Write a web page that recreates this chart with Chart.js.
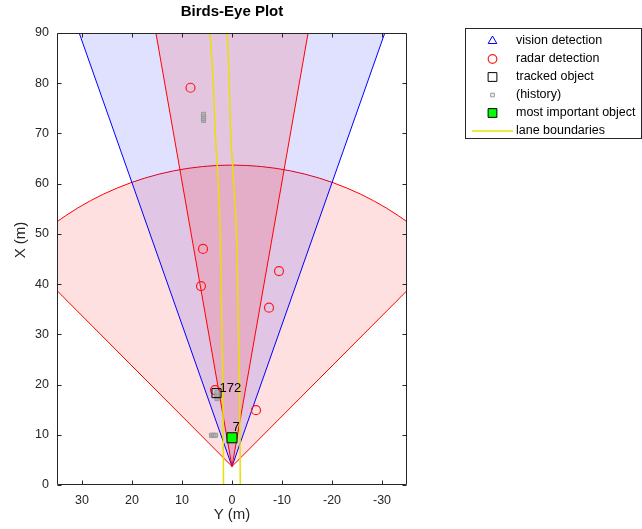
<!DOCTYPE html>
<html>
<head>
<meta charset="utf-8">
<script src="https://cdn.jsdelivr.net/npm/chart.js@4.4.1/dist/chart.umd.min.js"></script>
<style>
  html, body { margin: 0; padding: 0; background: #fff; overflow: hidden; }
  #wrap { width: 642px; height: 529px; position: relative; }
</style>
</head>
<body>
<div id="wrap"><canvas id="bep"></canvas></div>
<script>
// Axis ticks
const lateralTicks = [30, 20, 10, 0, -10, -20, -30];          // Y (m), drawn reversed
const longTicks = [0, 10, 20, 30, 40, 50, 60, 70, 80, 90];     // X (m)

// Sensor coverage (mounted at the front bumper)
const sensorX = 3.7;
const coverageNames = ['mid range radar', 'vision', 'long range radar'];
const coverageRange = [60, 150, 174];
const coverageFov = [90, 39, 20];

// Detections (lateral Y, longitudinal X)
const radarY = [8.3, 5.8, 6.2, -9.4, -7.4, -4.8, 3.4];
const radarX = [79.1, 47.0, 39.6, 42.6, 35.3, 14.9, 18.9];
const visionY = [];
const visionX = [];

// Tracks
const trackY = [3.1];
const trackX = [18.3];
const trackIds = ['172'];
const historyY = [5.7, 5.7, 5.7, 5.7, 4.1, 3.7, 3.3, 3.0, 3.0, 3.0, 3.0];
const historyX = [72.6, 73.0, 73.4, 73.8, 9.9, 9.9, 9.9, 17.2, 17.6, 18.0, 18.4];
const mioY = [0.0];
const mioX = [9.4];
const mioIds = ['7'];

// Lane boundaries
const laneX = [0, 10, 20, 30, 40, 50, 60, 70, 80, 90];
const laneLeftY = [1.7, 1.75, 1.85, 2.0, 2.2, 2.35, 2.75, 3.35, 3.75, 4.4];
const laneRightY = [-1.65, -1.6, -1.5, -1.3, -1.1, -0.9, -0.35, 0.25, 0.55, 0.95];

const legendLabels = ['vision detection', 'radar detection', 'tracked object', '(history)', 'most important object', 'lane boundaries'];

const AXIS = '#262626';
const FONT = "'Liberation Sans', Arial, Helvetica, sans-serif";
const coverageFill = ['rgba(255,0,0,0.12)', 'rgba(0,0,255,0.12)', 'rgba(255,0,0,0.12)'];
const coverageEdge = ['#ff0000', '#0000ff', '#ff0000'];
const LANE = '#e8e000';

const pts = (ys, xs) => ys.map((y, i) => ({ x: y, y: xs[i] }));

Chart.defaults.font.family = FONT;

const bepPlugin = {
  id: 'bep',
  beforeDatasetsDraw(chart) {
    const { ctx, chartArea: a, scales: { x: sx, y: sy } } = chart;
    const cx = sx.getPixelForValue(0);
    const cy = sy.getPixelForValue(sensorX);
    const kx = Math.abs(sx.getPixelForValue(1) - sx.getPixelForValue(0));
    const ky = Math.abs(sy.getPixelForValue(1) - sy.getPixelForValue(0));
    ctx.save();
    ctx.beginPath();
    ctx.rect(a.left, a.top, a.right - a.left, a.bottom - a.top);
    ctx.clip();
    coverageRange.forEach((r, i) => {
      const half = coverageFov[i] / 2 * Math.PI / 180;
      ctx.beginPath();
      ctx.moveTo(cx, cy);
      ctx.ellipse(cx, cy, r * kx, r * ky, 0, -Math.PI / 2 - half, -Math.PI / 2 + half);
      ctx.closePath();
      ctx.fillStyle = coverageFill[i];
      ctx.fill();
      ctx.lineWidth = 1;
      ctx.strokeStyle = coverageEdge[i];
      ctx.stroke();
    });
    ctx.restore();
  },
  afterDatasetsDraw(chart) {
    const { ctx, chartArea: a, scales: { x: sx, y: sy } } = chart;
    ctx.save();

    // object labels
    ctx.fillStyle = '#000';
    ctx.font = '13px ' + FONT;
    ctx.textBaseline = 'middle';
    ctx.textAlign = 'left';
    trackIds.forEach((id, i) => {
      ctx.fillText(id, sx.getPixelForValue(trackY[i]) + 3, sy.getPixelForValue(trackX[i]) - 5);
    });
    mioIds.forEach((id, i) => {
      ctx.fillText(id, sx.getPixelForValue(mioY[i]) + 0.5, sy.getPixelForValue(mioX[i]) - 10);
    });

    // axes box with inward ticks
    const L = Math.round(a.left) + 0.5, R = Math.round(a.right) - 0.5;
    const T = Math.round(a.top) + 0.5, B = Math.round(a.bottom) - 0.5;
    ctx.strokeStyle = AXIS;
    ctx.lineWidth = 1;
    ctx.beginPath();
    ctx.rect(L, T, R - L, B - T);
    const tl = 4;
    lateralTicks.forEach(v => {
      const px = Math.round(sx.getPixelForValue(v)) + 0.5;
      ctx.moveTo(px, B); ctx.lineTo(px, B - tl);
      ctx.moveTo(px, T); ctx.lineTo(px, T + tl);
    });
    longTicks.forEach(v => {
      const py = Math.round(sy.getPixelForValue(v)) + 0.5;
      ctx.moveTo(L, py); ctx.lineTo(L + tl, py);
      ctx.moveTo(R, py); ctx.lineTo(R - tl, py);
    });
    ctx.stroke();

    // y axis title
    ctx.save();
    ctx.fillStyle = AXIS;
    ctx.font = '15px ' + FONT;
    ctx.textAlign = 'center';
    ctx.translate(21, 240);
    ctx.rotate(-Math.PI / 2);
    ctx.fillText('X (m)', 0, 0);
    ctx.restore();

    // title
    ctx.fillStyle = '#000';
    ctx.font = 'bold 15px ' + FONT;
    ctx.textAlign = 'center';
    ctx.fillText('Birds-Eye Plot', (a.left + a.right) / 2, 12);

    // legend
    const lx = 465.5, ly = 28.5, lw = 176, lh = 110;
    ctx.fillStyle = '#fff';
    ctx.fillRect(lx, ly, lw, lh);
    ctx.strokeStyle = AXIS;
    ctx.strokeRect(lx, ly, lw, lh);
    const styles = chart.data.datasets.filter(d => d.legendIndex !== undefined)
      .sort((p, q) => p.legendIndex - q.legendIndex);
    ctx.font = '12.5px ' + FONT;
    ctx.textAlign = 'left';
    legendLabels.forEach((label, i) => {
      const y = 41 + i * 18;
      const d = styles[i];
      ctx.save();
      if (d.showLine) {
        ctx.strokeStyle = d.borderColor;
        ctx.lineWidth = 1.5;
        ctx.beginPath();
        ctx.moveTo(472, y); ctx.lineTo(513, y);
        ctx.stroke();
      } else {
        ctx.strokeStyle = d.borderColor;
        ctx.fillStyle = d.legendFill || d.backgroundColor;
        ctx.lineWidth = d.borderWidth;
        Chart.helpers.drawPoint(ctx, {
          pointStyle: d.pointStyle, radius: d.legendRadius || d.pointRadius,
          borderWidth: d.borderWidth, rotation: 0
        }, 492.5, y);
      }
      ctx.restore();
      ctx.fillStyle = '#000';
      ctx.fillText(label, 516, y);
    });
    ctx.restore();
  }
};

new Chart(document.getElementById('bep'), {
  type: 'scatter',
  data: {
    datasets: [
      {
        label: 'vision detection', legendIndex: 0, data: pts(visionY, visionX),
        pointStyle: 'triangle', pointRadius: 5, legendRadius: 5,
        borderColor: '#0000ff', backgroundColor: 'rgba(0,0,0,0)', borderWidth: 1, order: 3
      },
      {
        label: 'radar detection', legendIndex: 1, data: pts(radarY, radarX),
        pointStyle: 'circle', pointRadius: 4.5, legendRadius: 4.3,
        borderColor: '#ff1a1a', backgroundColor: 'rgba(0,0,0,0)', borderWidth: 1.2, order: 3
      },
      {
        label: 'tracked object', legendIndex: 2, data: pts(trackY, trackX),
        pointStyle: 'rect', pointRadius: 6.4, legendRadius: 6.2,
        borderColor: '#000', backgroundColor: 'rgba(0,0,0,0)', borderWidth: 1, order: 1
      },
      {
        label: '(history)', legendIndex: 3, data: pts(historyY, historyX),
        pointStyle: 'rect', pointRadius: 2.9, legendRadius: 2.6,
        borderColor: '#999999', backgroundColor: 'rgba(175,175,175,0.85)', legendFill: '#f0f0f0',
        borderWidth: 1, order: 2
      },
      {
        label: 'most important object', legendIndex: 4, data: pts(mioY, mioX),
        pointStyle: 'rect', pointRadius: 7.1, legendRadius: 6.2,
        borderColor: '#000', backgroundColor: '#00ff00', borderWidth: 1, order: 0
      },
      {
        label: 'lane boundaries', legendIndex: 5, data: pts(laneLeftY, laneX),
        showLine: true, pointRadius: 0, borderColor: LANE, borderWidth: 1.5,
        tension: 0.4, order: 4
      },
      {
        label: 'lane boundaries right', data: pts(laneRightY, laneX),
        showLine: true, pointRadius: 0, borderColor: LANE, borderWidth: 1.5,
        tension: 0.4, order: 4
      }
    ]
  },
  options: {
    responsive: true,
    maintainAspectRatio: false,
    animation: false,
    layout: { padding: { top: 33, right: 235, left: 0, bottom: 0 } },
    plugins: {
      legend: { display: false },
      title: { display: false },
      tooltip: { enabled: false }
    },
    scales: {
      x: {
        type: 'linear', min: -35, max: 35, reverse: true,
        afterBuildTicks: s => { s.ticks = lateralTicks.map(v => ({ value: v })); },
        afterFit: s => { s.height = 44; },
        grid: { display: false, drawTicks: false },
        border: { display: false },
        ticks: { color: AXIS, font: { size: 12.5 }, padding: 8, maxRotation: 0, autoSkip: false },
        title: { display: true, text: 'Y (m)', color: AXIS, font: { size: 15 }, padding: { top: 0, bottom: 5 } }
      },
      y: {
        type: 'linear', min: 0, max: 90,
        afterBuildTicks: s => { s.ticks = longTicks.map(v => ({ value: v })); },
        afterFit: s => { s.width = 57; },
        grid: { display: false, drawTicks: false },
        border: { display: false },
        ticks: { color: AXIS, font: { size: 12.5 }, padding: 8, autoSkip: false }
      }
    }
  },
  plugins: [bepPlugin]
});
</script>
</body>
</html>
